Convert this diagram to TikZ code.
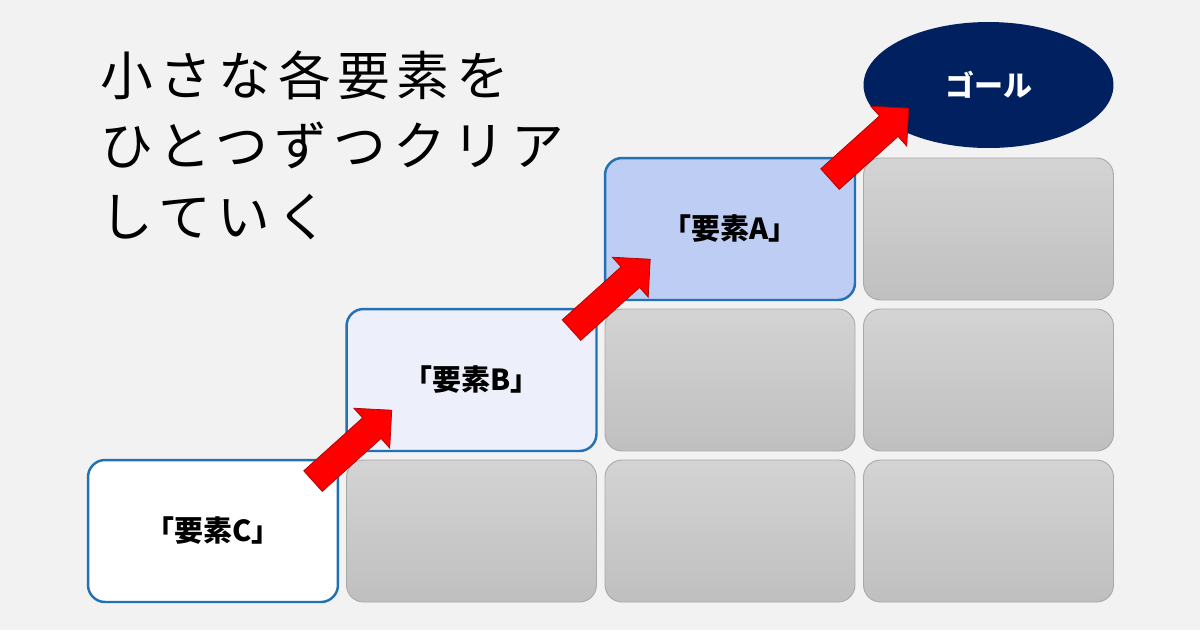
\documentclass[tikz,border=0pt]{standalone}
\usepackage{fontspec}
\setmainfont{Noto Sans CJK JP}
\newfontfamily\titlefont[LetterSpace=12.5]{Noto Sans CJK JP}
\usetikzlibrary{calc,shapes.geometric,shapes.arrows}
\definecolor{bgc}{HTML}{F2F2F2}
\definecolor{boxblue}{HTML}{2271B3}
\definecolor{paleblue}{HTML}{EDF0FB}
\definecolor{softblue}{HTML}{BDCDF3}
\definecolor{goalblue}{HTML}{002060}
\definecolor{arrred}{HTML}{FF0000}
\definecolor{arrdark}{HTML}{B00000}
\newcommand*{\lbl}[1]{\fontsize{16.5}{18}\selectfont\bfseries #1}

\begin{document}
\begin{tikzpicture}[x=0.02cm,y=-0.02cm,
  stepbox/.style={draw=boxblue,line width=1.4pt,rounded corners=0.34cm,
    minimum width=5cm,minimum height=2.84cm,inner sep=0pt},
  graybox/.style={draw=black!34,line width=0.5pt,rounded corners=0.34cm,
    top color=black!17,bottom color=black!25,
    minimum width=5cm,minimum height=2.84cm,inner sep=0pt},
  goal/.style={ellipse,fill=goalblue,text=white,
    minimum width=5cm,minimum height=2.52cm,inner sep=0pt},
  uparrow/.style={single arrow,fill=arrred,draw=arrdark,line width=0.4pt,
    minimum height=2.12cm,inner xsep=0pt,inner ysep=0.27cm,
    single arrow head extend=0.26cm,single arrow tip angle=90,
    single arrow head indent=0pt,rotate=42},
  title/.style={anchor=base west,inner sep=0pt,
    font=\fontsize{30}{36}\selectfont\titlefont}]
% Background and page size
\path[use as bounding box,fill=bgc] (0,0) rectangle (1200,630);
% Heading in three lines
\node[title] (title1) at (100,95) {小さな各要素を};
\node[title] (title2) at (100,165) {ひとつずつクリア};
\node[title] (title3) at (100,236) {していく};
% Grey blocks of the staircase
\foreach \c/\r in {1/2,2/2,3/2,2/1,3/1,3/0}
  \node[graybox] (g\c\r) at (213+258.5*\c,229+151*\r) {};
% The three steps and the goal
\node[stepbox,fill=white] (boxC) at (213,531) {\lbl{「要素C」}};
\node[stepbox,fill=paleblue] (boxB) at (471.5,380) {\lbl{「要素B」}};
\node[stepbox,fill=softblue] (boxA) at (730,229) {\lbl{「要素A」}};
\node[goal] (goal) at (988.5,85) {\lbl{ゴール}};
% Arrows climbing from step to step
\node[uparrow] (arrCB) at ($(boxC.north east)+(8,-8.5)$) {};
\node[uparrow] (arrBA) at ($(boxB.north east)+(8,-8.5)$) {};
\node[uparrow] (arrAG) at ($(boxA.north east)+(8,-8.5)$) {};
\end{tikzpicture}
\end{document}
